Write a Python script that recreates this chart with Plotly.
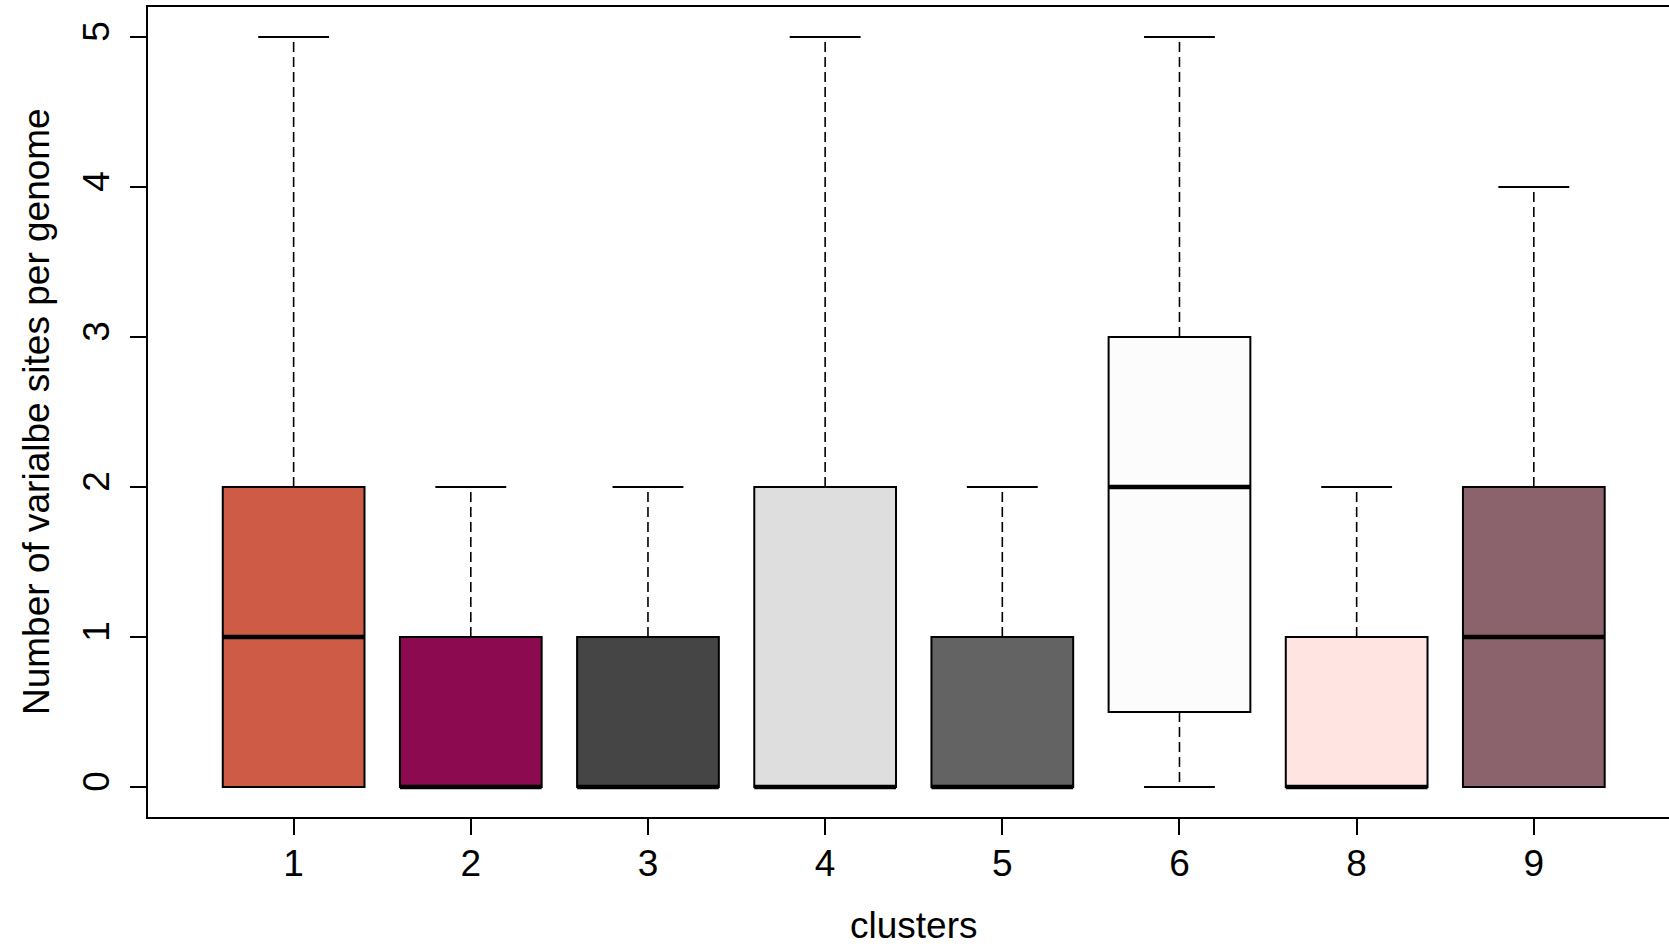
import plotly.graph_objects as go

clusters = ["1", "2", "3", "4", "5", "6", "8", "9"]
q1 = [0, 0, 0, 0, 0, 0.5, 0, 0]
median = [1, 0, 0, 0, 0, 2, 0, 1]
q3 = [2, 1, 1, 2, 1, 3, 1, 2]
lower = [0, 0, 0, 0, 0, 0, 0, 0]
upper = [5, 2, 2, 5, 2, 5, 2, 4]
colors = ["#CD5B45", "#8B0A50", "#454545", "#DEDEDE", "#636363", "#FCFCFC", "#FFE4E1", "#8B636C"]

BOXW = 0.8
CAPW = 0.4
FONT = "Liberation Sans, Arial, Helvetica, sans-serif"
FS = 37

pos = list(range(1, len(clusters) + 1))

fig = go.Figure()

for p, a, m, b, c, name in zip(pos, q1, median, q3, colors, clusters):
    fig.add_trace(go.Box(
        x=[p], q1=[a], median=[m], q3=[b], lowerfence=[a], upperfence=[b],
        width=BOXW, fillcolor=c, line=dict(color="black", width=2),
        whiskerwidth=0, boxpoints=False, name=name, showlegend=False,
        hoverinfo="skip",
    ))

# whiskers (dashed)
wx, wy = [], []
for p, a, b, lo, hi in zip(pos, q1, q3, lower, upper):
    if hi > b:
        wx += [p, p, None]
        wy += [b, hi, None]
    if lo < a:
        wx += [p, p, None]
        wy += [a, lo, None]
fig.add_trace(go.Scatter(x=wx, y=wy, mode="lines",
                         line=dict(color="black", width=1.6, dash="10px,5px"),
                         showlegend=False, hoverinfo="skip"))

# caps
cx, cy = [], []
for p, lo, hi in zip(pos, lower, upper):
    cx += [p - CAPW / 2, p + CAPW / 2, None, p - CAPW / 2, p + CAPW / 2, None]
    cy += [hi, hi, None, lo, lo, None]
fig.add_trace(go.Scatter(x=cx, y=cy, mode="lines",
                         line=dict(color="black", width=1.8),
                         showlegend=False, hoverinfo="skip"))

# medians
mx, my = [], []
for p, m in zip(pos, median):
    mx += [p - BOXW / 2, p + BOXW / 2, None]
    my += [m, m, None]
fig.add_trace(go.Scatter(x=mx, y=my, mode="lines",
                         line=dict(color="black", width=4.5),
                         showlegend=False, hoverinfo="skip"))

fig.update_layout(
    width=1669, height=947,
    margin=dict(l=148, r=0, t=7, b=130, autoexpand=False),
    paper_bgcolor="white", plot_bgcolor="white",
    boxmode="overlay",
    font=dict(family=FONT, size=FS, color="black"),
    showlegend=False,
    xaxis=dict(
        range=[0.178, 8.763], tickmode="array", tickvals=pos, ticktext=clusters,
        showline=True, linecolor="black", linewidth=2, mirror=True,
        ticks="outside", ticklen=16, tickwidth=1.8, tickcolor="black",
        showgrid=False, zeroline=False, ticklabelstandoff=-3, automargin=False,
    ),
    yaxis=dict(
        range=[-0.2, 5.2], tickmode="array", tickvals=[0, 1, 2, 3, 4, 5],
        showline=True, linecolor="black", linewidth=2,
        ticks="outside", ticklen=16, tickwidth=1.8, tickcolor="black",
        showgrid=False, zeroline=False, tickangle=-90, automargin=False,
        ticklabelstandoff=6,
    ),
    annotations=[
        dict(text="clusters", xref="paper", yref="paper",
             x=(913 - 148) / 1521, y=-(925 - 817) / 810,
             xanchor="center", yanchor="middle", showarrow=False,
             font=dict(family=FONT, size=FS, color="black")),
        dict(text="Number of varialbe sites per genome", xref="paper", yref="paper",
             x=-(148 - 36) / 1521, y=0.5, textangle=-90,
             xanchor="center", yanchor="middle", showarrow=False,
             font=dict(family=FONT, size=FS, color="black")),
    ],
)

fig.write_html(
    "out.html",
    config={"displayModeBar": False},
    post_script="document.body.style.margin='0';document.body.style.overflow='hidden';",
)
